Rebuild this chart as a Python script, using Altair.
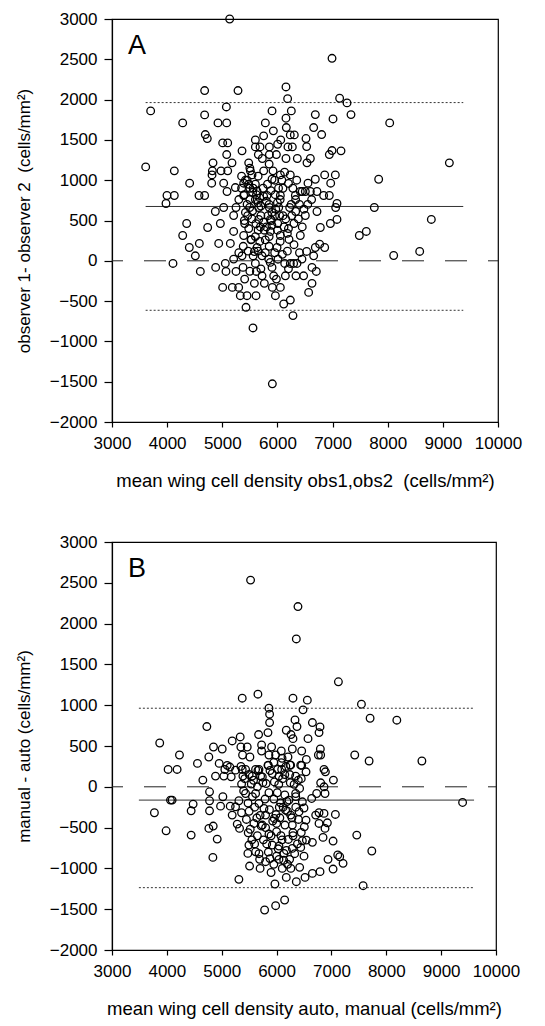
import altair as alt
import pandas as pd

# ---------------- Panel A data (observer 1 vs observer 2) ----------------
a_x = [5134, 6990, 4680, 5285, 6155, 6185, 7128, 7262, 3701, 4680, 5074, 5902, 6252, 6687, 7008, 7334,
       4282, 4922, 5080, 5781, 6155, 6161, 8036, 5926, 4692, 4728, 6233, 6306, 6802, 6657, 5007, 5098,
       5600, 5684, 5854, 6004, 6191, 6270, 6518, 6530, 7153, 6941, 6990, 5358, 5080, 5654, 5854, 5981,
       3611, 9118, 4832, 5176, 5479, 5726, 6155, 6361, 6536, 6597, 4130, 4820, 4977, 5098, 5509, 5751,
       5920, 6053, 4814, 5539, 6233, 6857, 7050, 7836, 4408, 4808, 5025, 5388, 5902, 6554, 6687, 6966,
       3997, 4130, 4578, 4680, 5086, 5237, 5388, 5630, 5811, 6053, 6325, 6415, 6506, 6597, 6717, 6838,
       6941, 3979, 7080, 7757, 4874, 5025, 5249, 5497, 5660, 5854, 6023, 6222, 6331, 6717, 7056, 4354,
       4735, 4965, 5206, 5406, 5660, 5872, 6005, 6300, 6506, 6778, 6960, 7080, 8791, 4282, 4935, 5206,
       5388, 5527, 5872, 6053, 6210, 6415, 7485, 7612, 4402, 4584, 5146, 5630, 5993, 6530, 6687, 6857,
       8108, 8580,
       4106, 4511, 4602, 4880, 5055, 5067, 5007, 5182, 5206, 5249, 5297, 5358, 5376, 5406, 5327, 5448,
       5612, 5430, 5557, 5582, 5600, 5618, 5582, 5721, 5721, 5763, 5842, 5902, 5932, 5908, 5981, 5963,
       6053, 6114, 6132, 6234, 6144, 6294, 6336, 6234, 6282, 6355, 6445, 6475, 6657, 6627, 6705, 6627,
       6566, 6766, 5908,
       5450, 5500, 5550, 5600, 5650, 5700, 5750, 5800, 5850, 5900, 5950, 6000, 6050, 5700, 5750, 5800,
       5850, 5650, 5600, 5550, 5500, 5450, 5400, 5350, 5300, 5480, 5520, 5680, 5780, 5900, 6000, 6100,
       6150, 6200, 6250, 6350, 6450, 6100, 5950, 5850, 5650, 5600, 5500, 5420, 6050, 5950, 5850, 5700,
       5500, 6200,
       5350, 5420, 5480, 5560, 5620, 5680, 5740, 5820, 5880, 5960, 6020, 6080, 6130, 6200, 6280, 6330,
       6400, 6480, 6550, 6620, 5400, 5460, 5540, 5610, 5690, 5760, 5830, 5890, 5970, 6040, 6120, 6180,
       6260, 6380, 6450, 5300, 5380, 5470, 5560, 5650, 5780, 5870, 6010, 6090, 6180, 6300, 6400, 5600,
       5750, 6060]
a_y = [3000, 2512, 2112, 2112, 2157, 2012, 2017, 1959, 1860, 1810, 1909, 1860, 1860, 1814, 1760, 1814,
       1711, 1711, 1711, 1711, 1769, 1653, 1711, 1612, 1566, 1517, 1562, 1562, 1566, 1653, 1463, 1463,
       1413, 1413, 1413, 1446, 1413, 1413, 1517, 1417, 1364, 1318, 1368, 1364, 1318, 1318, 1318, 1318,
       1165, 1215, 1215, 1215, 1215, 1269, 1269, 1269, 1215, 1269, 1116, 1116, 1116, 1116, 1116, 1116,
       1116, 1066, 1066, 1066, 1066, 1066, 1066, 1012, 963, 963, 963, 963, 1012, 963, 1012, 963,
       810, 810, 810, 810, 860, 909, 810, 864, 810, 810, 810, 860, 860, 860, 860, 810,
       810, 711, 711, 661, 612, 661, 661, 661, 661, 661, 661, 661, 612, 612, 661, 463,
       413, 463, 562, 463, 513, 513, 463, 463, 562, 413, 463, 513, 513, 314, 215, 364,
       314, 265, 364, 314, 265, 314, 314, 364, 165, 215, 215, 165, 165, 116, 165, 165,
       66, 116,
       -33, 62, -132, -82, -33, -132, -330, -330, 21, -132, -330, 62, -82, -227, -433, -433,
       -433, -577, -833, 115, -33, -132, -280, 62, -186, -280, 21, -82, -186, -330, -227, -433,
       -330, -536, -33, -33, -186, -33, -186, -487, -680, -33, 21, -186, 62, -82, -132, -280,
       -392, 206, -1526,
       1000, 900, 850, 760, 720, 680, 800, 740, 700, 600, 560, 720, 760, 560, 480, 420,
       300, 380, 300, 620, 760, 700, 820, 900, 760, 400, 260, 240, 260, 440, 380, 560,
       520, 400, 700, 1000, 860, 900, 1000, 1200, 1050, 950, 1150, 600, 240, 100, 180, -100,
       -130, -100,
       1050, 1000, 950, 900, 820, 780, 900, 950, 870, 820, 900, 1000, 1100, 960, 900, 760,
       700, 640, 700, 760, 500, 560, 520, 460, 420, 380, 560, 500, 640, 560, 420, 340,
       560, 520, 420, 100, 180, 120, 60, 120, 100, -20, 20, 80, 120, 200, 100, 1500,
       1550, 1500]

# ---------------- Panel B data (manual vs auto) ----------------
b_x = [5526, 6390, 6360, 7127, 5660, 5374, 6299, 6561, 7547, 5861, 5873, 6482, 5873, 6336, 7705, 8192,
       4729, 6372, 6653, 6792, 6177, 5843, 6774, 6263, 5672, 6299, 6573, 5337, 5191, 3870, 4850, 5009,
       5349, 5465, 5909, 5727, 6086, 6287, 6458, 6798, 5380, 5514, 5727, 5861, 5982, 6208, 6543, 6762,
       6804, 4230, 4765, 4558, 4954, 5100, 5149, 5843, 6086, 6244, 6458, 7425, 7687, 8649, 4023, 4187,
       5374, 5617, 6019, 6865,
       4656, 4887, 5057, 5039, 5252, 5173, 5386, 5435, 5557, 5709, 5539, 5362, 5679, 5849, 5922, 6044,
       6093, 6257, 6348, 6440, 6397, 6537, 6890, 7036, 6804, 6865, 6883, 6731, 6640, 6774, 6865, 7072,
       6713, 6774, 6926, 6883, 6847, 7030, 7462, 7736, 7115, 6938, 7151, 7212, 7030, 6792, 6653, 7578,
       6519, 6360, 6177, 5970, 5313, 5782, 5983, 6147, 9391, 3773, 3986, 4096, 4066, 4443, 4443, 4479,
       4778, 4778, 4778, 4766, 4845, 4918, 4839, 4979, 5021, 5155, 5313, 5362, 5283, 5325, 5483, 5496,
       5477, 5508, 5618, 5691, 5800, 5587, 5740, 5861, 5922, 6044, 6044, 6135, 6104, 6238, 6287, 6421,
       6440, 6470, 6543, 6653, 6287, 6299, 6214, 6153, 6001, 5958, 5800, 5679, 5770, 5861, 6013, 6074,
       6165, 6257, 6409, 6537, 6506, 6348, 6470, 6226, 5618, 5435, 5252, 5191,
       5500, 5600, 5700, 5800, 5900, 6000, 6100, 6200, 5650, 5750, 5950, 6050, 6150, 6250, 6350, 5550,
       5650, 5850, 6000, 6200, 5900, 5700, 6300, 6400, 5950, 6100, 5400, 5350, 6150, 6450,
       5450, 5520, 5600, 5680, 5760, 5820, 5880, 5950, 6030, 6080, 6130, 6180, 6260, 6330, 6380, 6450,
       6500, 5480, 5560, 5640, 5720, 5790, 5870, 5930, 5990, 6060, 6120, 6190, 6280, 6350, 5420, 5500,
       5580, 5660, 5740, 5810, 5880, 5960, 6040, 6110, 6170, 6240, 6320, 6420, 6500]
b_y = [2533, 2209, 1812, 1287, 1135, 1086, 1086, 1062, 1012, 963, 890, 943, 787, 820, 840, 816,
       738, 738, 787, 734, 693, 664, 664, 640, 640, 590, 590, 611, 562, 537, 488, 463,
       488, 488, 488, 513, 439, 463, 439, 463, 390, 365, 439, 390, 390, 365, 336, 390,
       390, 390, 365, 287, 287, 263, 242, 263, 295, 267, 263, 390, 316, 316, 213, 213,
       213, 213, 213, 213,
       82, 131, 212, 131, 204, 122, 131, 212, 131, 131, 33, 33, 212, 265, 163, 131,
       212, 265, 131, 265, 82, 184, 184, 82, 49, 0, -82, -82, -143, -318, -326, -339,
       -347, -449, -441, -510, -620, -665, -592, -787, -836, -889, -857, -938, -1008, -1040, -1061, -1212,
       -1110, -1163, -1110, -1191, -1134, -1510, -1457, -1387, -192, -318, -539, -163, -163, -592, -294, -212,
       -61, -171, -294, -510, -481, -641, -865, -237, -122, -237, -171, -318, -457, -510, -563, -714,
       -816, -971, -796, -889, -918, -449, -469, -579, -714, -726, -889, -816, -1000, -889, -755, -987,
       -743, -661, -653, -681, -469, -563, -645, -469, -449, -388, -347, -204, -265, -73, -73, -196,
       -286, -347, -306, -408, -490, -82, -184, -163, -82, -82, -245, -347,
       -300, -250, -350, -500, -600, -550, -650, -300, 0, 50, -150, -250, -100, 50, -250, -650,
       -600, -800, -850, -950, -1050, -1000, -600, -400, 300, 350, -50, 250, 150, 100,
       -400, -520, -700, -820, -650, -700, -880, -950, -760, -600, -900, -780, -1000, -820, -700, -560,
       -850, -200, -120, -380, -480, -150, -280, -420, -340, -380, -250, -180, -380, -120, 100, 150,
       80, 200, 120, 40, 200, 60, 30, 100, 250, 150, 30, -20, -260]

# Bland-Altman reference levels: mean difference, upper and lower limits of agreement
a_levels = [674, 1963, -614]
b_levels = [-163, 963, -1236]
a_span = [3610, 9370]
b_span = [3490, 9600]

FONT = "Liberation Sans"
X_DOMAIN = [3000, 10000]
Y_DOMAIN = [-2000, 3000]
X_TICKS = [3000, 4000, 5000, 6000, 7000, 8000, 9000, 10000]
Y_TICKS = [-2000, -1500, -1000, -500, 0, 500, 1000, 1500, 2000, 2500, 3000]
NB = "\u00a0"


def panel(xs, ys, levels, span, letter, xtitle, ytitle, w, h):
    xs_ = alt.Scale(domain=X_DOMAIN, nice=False, zero=False)
    ys_ = alt.Scale(domain=Y_DOMAIN, nice=False, zero=False)
    xax = alt.Axis(values=X_TICKS, title=xtitle, format="d", tickSize=5, labelPadding=8,
                   titlePadding=20, labelOverlap=False, labelFlush=False, titleFontSize=18.5)
    yax = alt.Axis(values=Y_TICKS, title=ytitle, format="d", tickSize=8, labelPadding=7,
                   titlePadding=16, labelOverlap=False, labelFlush=False, titleFontSize=17)

    pts = pd.DataFrame({"x": xs, "y": ys})
    zero = pd.DataFrame({"x": [X_DOMAIN[0]], "x2": [X_DOMAIN[1]], "y": [0]})
    mean = pd.DataFrame({"x": [span[0]], "x2": [span[1]], "y": [levels[0]]})
    lims = pd.DataFrame({"x": [span[0], span[0]], "x2": [span[1], span[1]], "y": levels[1:]})

    def rule(df, **kw):
        return alt.Chart(df).mark_rule(**kw).encode(
            x=alt.X("x:Q", scale=xs_, axis=xax),
            x2="x2:Q",
            y=alt.Y("y:Q", scale=ys_, axis=yax),
        )

    zero_l = rule(zero, color="#222", strokeWidth=1, strokeDash=[22, 21], strokeDashOffset=11)
    mean_l = rule(mean, color="#333", strokeWidth=1)
    lim_l = rule(lims, color="#333", strokeWidth=1, strokeDash=[2, 2])
    points = alt.Chart(pts).mark_point(
        shape="circle", filled=False, color="black", size=58, strokeWidth=1.3, opacity=1
    ).encode(
        x=alt.X("x:Q", scale=xs_, axis=xax),
        y=alt.Y("y:Q", scale=ys_, axis=yax),
    )
    label = alt.Chart(pd.DataFrame({"t": [letter]})).mark_text(
        font=FONT, fontSize=27, align="left", baseline="alphabetic", color="black"
    ).encode(text="t:N", x=alt.value(16), y=alt.value(35))
    return alt.layer(zero_l, mean_l, lim_l, points, label).properties(width=w, height=h)


chart_a = panel(a_x, a_y, a_levels, a_span, "A",
                "mean wing cell density obs1,obs2" + NB + " (cells/mm²)",
                "observer 1- observer 2" + NB + " (cells/mm²)", 386, 403)
chart_b = panel(b_x, b_y, b_levels, b_span, "B",
                "mean wing cell density auto, manual (cells/mm²)",
                "manual - auto (cells/mm²)", 384, 408)

chart = alt.vconcat(chart_a, chart_b, spacing=41).properties(
    padding={"left": 6, "top": 1, "right": 2, "bottom": 2}, background="white"
).configure_axis(
    labelFont=FONT, titleFont=FONT, labelFontSize=17,
    titleFontWeight="normal", labelColor="black", titleColor="black",
    domainColor="black", tickColor="black", grid=False, domainWidth=1.2, tickWidth=1.2,
).configure_view(stroke="black", strokeWidth=1.2)

chart.save("out.html", embed_options={"renderer": "svg", "actions": False})
